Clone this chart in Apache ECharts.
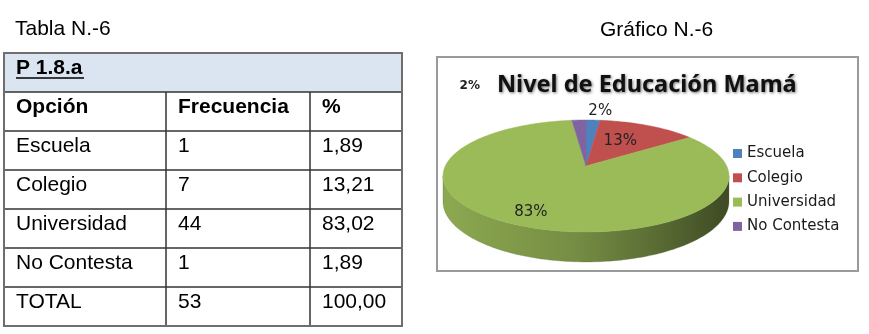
<!DOCTYPE html>
<html><head><meta charset="utf-8">
<script src="https://cdn.jsdelivr.net/npm/echarts@6/dist/echarts.min.js"></script>
<style>html,body{margin:0;padding:0;background:#fff}#c{width:869px;height:334px}</style>
</head><body><div id="c"></div>
<script>
// ---------- data ----------
const tableCaption = 'Tabla N.-6';
const chartCaption = 'Gráfico N.-6';
const tableTitle = 'P 1.8.a';
const tableHeaders = ['Opción', 'Frecuencia', '%'];
const categories = ['Escuela', 'Colegio', 'Universidad', 'No Contesta'];
const frequencies = [1, 7, 44, 1];
const percents = ['1,89', '13,21', '83,02', '1,89'];
const totalRow = ['TOTAL', '53', '100,00'];
const chartTitle = 'Nivel de Educación Mamá';

// ---------- style ----------
const colors = ['#4f81bd', '#c0504d', '#9bbb59', '#8064a2'];
const SANS = '"Liberation Sans", Arial, sans-serif';

const chart = echarts.init(document.getElementById('c'), null, {renderer: 'canvas'});
const graphics = [];

function addText(x, y, s, o) {
  graphics.push({type: 'text', x: x, y: y, silent: true,
    style: Object.assign({text: s, fill: '#000', fontSize: 21, fontFamily: SANS,
      align: 'left', verticalAlign: 'middle'}, o || {})});
}
function addLine(x1, y1, x2, y2, stroke, w) {
  graphics.push({type: 'line', silent: true, shape: {x1: x1, y1: y1, x2: x2, y2: y2},
    style: {stroke: stroke, lineWidth: w}});
}

// ---------- table ----------
const TX = [4, 166, 310, 402];
const TY0 = 53, RH = 39;
const bodyRows = [tableHeaders].concat(categories.map((c, i) => [c, String(frequencies[i]), percents[i]])).concat([totalRow]);
const nRows = bodyRows.length + 1;
const TY1 = TY0 + nRows * RH;

addText(15, 29, tableCaption);
graphics.push({type: 'rect', silent: true, shape: {x: TX[0], y: TY0, width: TX[3] - TX[0], height: RH},
  style: {fill: '#dbe5f1'}});
for (let r = 1; r < nRows; r++) addLine(TX[0], TY0 + r * RH, TX[3], TY0 + r * RH, '#333', 1.5);
for (let c = 1; c < 3; c++) addLine(TX[c], TY0 + RH, TX[c], TY1, '#333', 1.5);
graphics.push({type: 'rect', silent: true, shape: {x: TX[0], y: TY0, width: TX[3] - TX[0], height: TY1 - TY0},
  style: {fill: 'none', stroke: '#6e6e6e', lineWidth: 2}});
addText(16, TY0 + 15, tableTitle, {fontWeight: 'bold'});
addLine(16, TY0 + 25, 84, TY0 + 25, '#000', 1.5);
bodyRows.forEach((row, r) => {
  const y = TY0 + (r + 1) * RH + 15;
  row.forEach((cell, c) => {
    addText(TX[c] + (c === 0 ? 12 : 12), y, cell, r === 0 ? {fontWeight: 'bold'} : {});
  });
});

// ---------- chart frame & captions ----------
addText(600, 30, chartCaption);
graphics.push({type: 'rect', silent: true, shape: {x: 437, y: 57, width: 421, height: 214},
  style: {fill: 'none', stroke: '#9a9a9a', lineWidth: 2}});
addText(497, 85, chartTitle, {fontFamily: '"Noto Sans", sans-serif', fontWeight: 'bold', fontSize: 23.5,
  fill: '#111', textShadowColor: 'rgba(0,0,0,0.55)', textShadowBlur: 3, textShadowOffsetX: 1, textShadowOffsetY: 1});

// ---------- 3D pie (custom series) ----------
const CX = 586, CY = 166, R = 140.7, S = 54.2, K = 0.1786, D = 24.6;
const total = frequencies.reduce((a, b) => a + b, 0);
const startFrac = [];
(function () { let acc = 0; frequencies.forEach(v => { startFrac.push(acc / total); acc += v; }); })();
const VIS0 = Math.acos(-K) * 180 / Math.PI, VIS1 = 360 - VIS0;
const labelPlace = [
  {f: 1.2, dx: 6, dy: -1, size: 15, weight: 'normal'},
  {f: 0.55, dx: -2, dy: -1, size: 15, weight: 'normal'},
  {f: 0.8, dx: -3, dy: 0, size: 15, weight: 'normal'},
  {f: 1.2, dx: -108, dy: -27, size: 12, weight: 'bold'}
];

function P(deg, f, drop) {
  const t = deg * Math.PI / 180;
  const u = f * Math.sin(t), v = f * Math.cos(t);
  const w = 1 + K * v;
  return [CX + R * u / w, CY - S * v / w + (drop || 0) / w];
}
function shade(hex, k) {
  const n = parseInt(hex.slice(1), 16);
  const r = Math.round(((n >> 16) & 255) * k), g = Math.round(((n >> 8) & 255) * k), b = Math.round((n & 255) * k);
  return 'rgb(' + r + ',' + g + ',' + b + ')';
}
function sideFill(col) {
  return new echarts.graphic.LinearGradient(CX - R, 0, CX + R, 0, [
    {offset: 0, color: shade(col, 0.9)},
    {offset: 0.45, color: shade(col, 0.76)},
    {offset: 0.75, color: shade(col, 0.58)},
    {offset: 1, color: shade(col, 0.4)}
  ], true);
}

function renderSlice(i) {
  return function (params, api) {
    const v = api.value(0);
    const a0 = startFrac[i] * 360, a1 = a0 + v / total * 360;
    const children = [];
    const lo = Math.max(a0, VIS0), hi = Math.min(a1, VIS1);
    if (hi > lo) {
      const top = [], bot = [];
      for (let a = lo; a < hi; a += 1) { top.push(P(a, 1, 0)); bot.push(P(a, 1, D)); }
      top.push(P(hi, 1, 0)); bot.push(P(hi, 1, D));
      children.push({type: 'polygon', shape: {points: top.concat(bot.reverse())},
        style: {fill: sideFill(colors[i]), stroke: shade(colors[i], 0.6), lineWidth: 0.3}});
    }
    const pts = [P(0, 0, 0)];
    for (let a = a0; a < a1; a += 1) pts.push(P(a, 1, 0));
    pts.push(P(a1, 1, 0));
    children.push({type: 'polygon', shape: {points: pts},
      style: {fill: colors[i], stroke: colors[i], lineWidth: 0.5}});
    const lp = labelPlace[i];
    const m = (a0 + a1) / 2;
    const c = P(m, lp.f, 0);
    children.push({type: 'text', x: c[0] + lp.dx, y: c[1] + lp.dy,
      style: {text: Math.round(v / total * 100) + '%', fill: '#222', fontSize: lp.size,
        fontWeight: lp.weight, fontFamily: '"DejaVu Sans", sans-serif', align: 'center', verticalAlign: 'middle'}});
    return {type: 'group', children: children};
  };
}

const series = categories.map((name, i) => ({
  type: 'custom', name: name, coordinateSystem: 'none',
  data: [frequencies[i]], itemStyle: {color: colors[i]},
  renderItem: renderSlice(i), silent: true
}));

chart.setOption({
  animation: false,
  backgroundColor: '#fff',
  legend: {
    orient: 'vertical', left: 733, top: 146, padding: 0,
    itemWidth: 9, itemHeight: 9, itemGap: 9.3, icon: 'rect',
    selectedMode: false, data: categories,
    textStyle: {fontFamily: '"DejaVu Sans", sans-serif', fontSize: 15, color: '#1a1a1a', lineHeight: 14}
  },
  graphic: graphics,
  series: series
});
</script>
</body></html>
